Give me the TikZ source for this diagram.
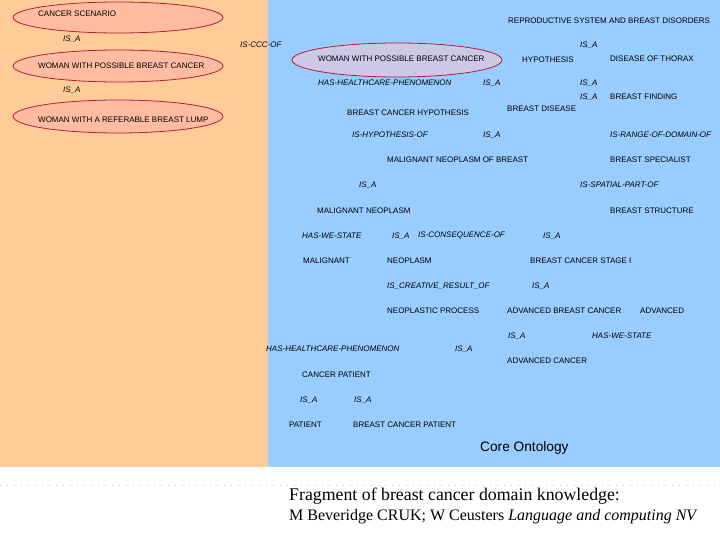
\documentclass[tikz,border=0pt]{standalone}
\usepackage{fontspec}
\setmainfont{Liberation Sans}
\newfontfamily\serifcap{Liberation Serif}
\usetikzlibrary{shapes.geometric}
\definecolor{orangebg}{HTML}{FFCC99}
\definecolor{bluebg}{HTML}{99CCFF}
\definecolor{salmonfill}{HTML}{FFBCA0}
\definecolor{lavfill}{HTML}{CCC8E6}
\definecolor{ellborder}{HTML}{B0203A}
\tikzset{
  lbl/.style={anchor=west,inner sep=0pt,font=\fontsize{8}{9}\selectfont,text=black,yshift=-0.7pt},
  rel/.style={lbl,font=\fontsize{8}{9}\selectfont\itshape},
  ell/.style={ellipse,draw=ellborder,line width=0.8pt,inner sep=0pt},
}
\begin{document}
\begin{tikzpicture}[x=1pt,y=-1pt]
\useasboundingbox (0,0) rectangle (720,540);
\fill[white] (0,0) rectangle (720,540);
\fill[orangebg] (0,0) rectangle (268,467);
\fill[bluebg] (268,0) rectangle (720,467);
\draw[gray!45,line width=0.6pt,dash pattern=on 1pt off 6pt] (0,485) -- (720,485);

% ellipses
\node[ell,fill=salmonfill,minimum width=210pt,minimum height=31pt] (e1) at (118,17.5) {};
\node[ell,fill=salmonfill,minimum width=210pt,minimum height=32pt] (e2) at (118,66) {};
\node[ell,fill=salmonfill,minimum width=210pt,minimum height=33pt] (e3) at (118,116.5) {};
\node[ell,fill=lavfill,minimum width=210pt,minimum height=34pt] (e4) at (397,60) {};

% left column
\node[lbl] (t1) at (38,13) {CANCER SCENARIO};
\node[rel] (r1) at (63,38) {IS\_A};
\node[lbl] (t2) at (38,65) {WOMAN WITH POSSIBLE BREAST CANCER};
\node[rel] (r2) at (63,89) {IS\_A};
\node[lbl] (t3) at (38,119) {WOMAN WITH A REFERABLE BREAST LUMP};
\node[rel] (r3) at (240,44) {IS-CCC-OF};

% right area
\node[lbl] (t4) at (508,20) {REPRODUCTIVE SYSTEM AND BREAST DISORDERS};
\node[rel] (r4) at (580,44) {IS\_A};
\node[lbl] (t5) at (318,58) {WOMAN WITH POSSIBLE BREAST CANCER};
\node[lbl] (t6) at (522,59) {HYPOTHESIS};
\node[lbl] (t7) at (610,58) {DISEASE OF THORAX};
\node[rel] (r5) at (318,82) {HAS-HEALTHCARE-PHENOMENON};
\node[rel] (r6) at (483,82) {IS\_A};
\node[rel] (r7) at (580,82) {IS\_A};
\node[rel] (r8) at (580,96) {IS\_A};
\node[lbl] (t8) at (610,96) {BREAST FINDING};
\node[lbl] (t9) at (507,108) {BREAST DISEASE};
\node[lbl] (t10) at (347,112) {BREAST CANCER HYPOTHESIS};
\node[rel] (r9) at (352,134) {IS-HYPOTHESIS-OF};
\node[rel] (r10) at (483,134) {IS\_A};
\node[rel] (r11) at (610,134) {IS-RANGE-OF-DOMAIN-OF};
\node[lbl] (t11) at (387,159) {MALIGNANT NEOPLASM OF BREAST};
\node[lbl] (t12) at (610,159) {BREAST SPECIALIST};
\node[rel] (r12) at (359,184) {IS\_A};
\node[rel] (r13) at (580,184) {IS-SPATIAL-PART-OF};
\node[lbl] (t13) at (317,210) {MALIGNANT NEOPLASM};
\node[lbl] (t14) at (610,210) {BREAST STRUCTURE};
\node[rel] (r14) at (302,235) {HAS-WE-STATE};
\node[rel] (r15) at (392,235) {IS\_A};
\node[rel] (r16) at (418,235) {IS-CONSEQUENCE-OF};
\node[rel] (r17) at (543,235) {IS\_A};
\node[lbl] (t15) at (303,260) {MALIGNANT};
\node[lbl] (t16) at (387,260) {NEOPLASM};
\node[lbl] (t17) at (530,260) {BREAST CANCER STAGE I};
\node[rel] (r18) at (387,285) {IS\_CREATIVE\_RESULT\_OF};
\node[rel] (r19) at (532,285) {IS\_A};
\node[lbl] (t18) at (387,310) {NEOPLASTIC PROCESS};
\node[lbl] (t19) at (507,310) {ADVANCED BREAST CANCER};
\node[lbl] (t20) at (640,310) {ADVANCED};
\node[rel] (r20) at (508,335) {IS\_A};
\node[rel] (r21) at (592,335) {HAS-WE-STATE};
\node[rel] (r22) at (266,348) {HAS-HEALTHCARE-PHENOMENON};
\node[rel] (r23) at (455,348) {IS\_A};
\node[lbl] (t21) at (507,360) {ADVANCED CANCER};
\node[lbl] (t22) at (302,374) {CANCER PATIENT};
\node[rel] (r24) at (300,399) {IS\_A};
\node[rel] (r25) at (354,399) {IS\_A};
\node[lbl] (t23) at (289,424) {PATIENT};
\node[lbl] (t24) at (353,424) {BREAST CANCER PATIENT};
\node[anchor=west,inner sep=0pt,font=\fontsize{13.7}{15}\selectfont] (core) at (480,447.5) {Core Ontology};

% caption
\node[anchor=west,inner sep=0pt,font=\serifcap\fontsize{17.8}{20}\selectfont] (cap1) at (289,496.5) {Fragment of breast cancer domain knowledge:};
\node[anchor=west,inner sep=0pt,font=\serifcap\fontsize{16}{18}\selectfont] (cap2) at (289,516.5) {M Beveridge CRUK; W Ceusters \textit{Language and computing NV}};
\end{tikzpicture}
\end{document}
